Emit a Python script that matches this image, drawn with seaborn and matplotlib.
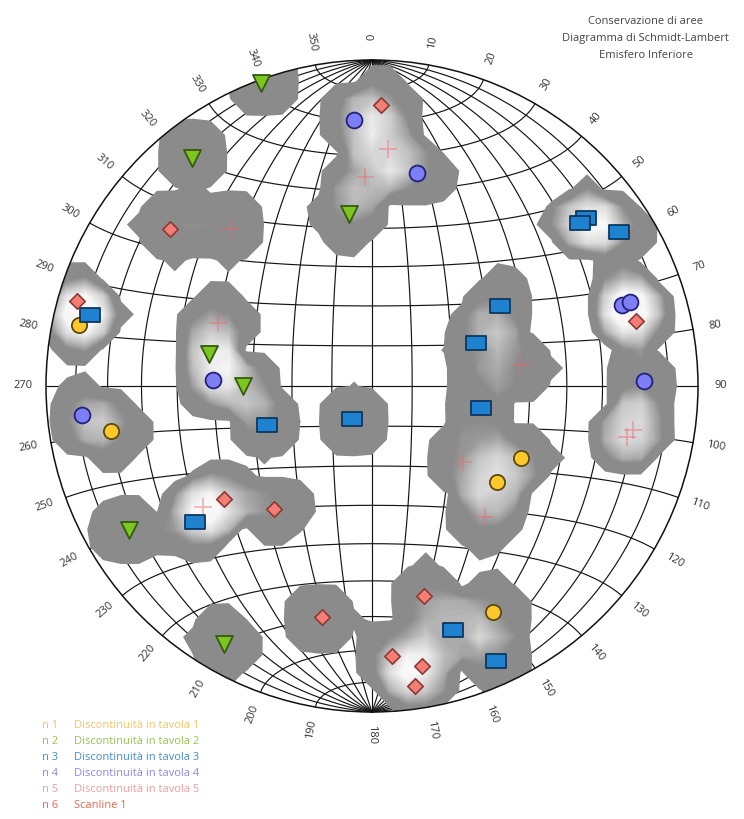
import numpy as np
import pandas as pd
import matplotlib
matplotlib.use("Agg")
import matplotlib.pyplot as plt
from matplotlib.path import Path
from matplotlib.patches import Circle
from matplotlib.colors import LinearSegmentedColormap
import seaborn as sns

sns.set_theme(style="white")
plt.rcParams['font.family'] = ['Open Sans', 'DejaVu Sans']

# Poles (trend, plunge in degrees) for each data set
tav1_trend = [281.8, 260.2, 115.8, 127.5, 151.8]
tav1_plunge = [9.0, 19.9, 47.9, 50.0, 22.4]

tav2_trend = [339.9, 321.7, 352.4, 281.1, 270.0, 239.3, 209.8]
tav2_plunge = [1.1, 11.9, 45.8, 47.8, 57.5, 14.4, 9.7]

tav3_trend = [58.0, 67.5, 101.4, 51.9, 51.9, 58.1, 284.1, 249.6, 211.2, 232.5, 161.6, 155.7]
tav3_plunge = [51.8, 61.7, 62.1, 17.7, 20.0, 11.7, 11.8, 61.9, 80.4, 32.1, 22.2, 8.3]

tav4_trend = [356.1, 11.9, 72.0, 72.0, 88.9, 272.2, 264.3]
tav4_plunge = [19.3, 33.6, 20.5, 17.9, 17.7, 49.6, 11.6]

tav5_trend = [1.8, 307.9, 286.1, 76.2, 232.6, 218.5, 192.2, 166.1, 175.8, 169.9, 171.8]
tav5_plunge = [14.9, 22.6, 6.5, 17.7, 42.4, 50.1, 28.3, 34.0, 18.1, 13.8, 7.8]

scan1_trend = [3.9, 358.1, 318.1, 292.2, 81.9, 129.9, 139.2, 101.3, 99.6, 234.4]
scan1_plunge = [28.0, 36.1, 35.5, 47.7, 52.2, 60.2, 45.9, 21.3, 19.9, 36.4]

set_names = ["Discontinuità in tavola 1", "Discontinuità in tavola 2",
             "Discontinuità in tavola 3", "Discontinuità in tavola 4",
             "Discontinuità in tavola 5", "Scanline 1"]
title_lines = ["Conservazione di aree", "Diagramma di Schmidt-Lambert", "Emisfero Inferiore"]
azimuth_labels = list(range(0, 360, 10))


def project(trend, plunge):
    """Lambert equal-area (Schmidt) projection, lower hemisphere, unit radius."""
    t = np.radians(np.asarray(trend, float))
    p = np.radians(np.asarray(plunge, float))
    r = np.sqrt(2.0) * np.sin((np.pi / 2 - p) / 2)
    return r * np.sin(t), r * np.cos(t)


def project_vec(e, n, d):
    s = 1.0 / np.sqrt(1.0 + d)
    return e * s, n * s


sets = [
    (tav1_trend, tav1_plunge),
    (tav2_trend, tav2_plunge),
    (tav3_trend, tav3_plunge),
    (tav4_trend, tav4_plunge),
    (tav5_trend, tav5_plunge),
    (scan1_trend, scan1_plunge),
]
rows = []
for k, (tr, pl) in enumerate(sets):
    x, y = project(tr, pl)
    for xi, yi, ti, pi in zip(x, y, tr, pl):
        rows.append(dict(set=set_names[k], x=xi, y=yi, trend=ti, plunge=pi))
df = pd.DataFrame(rows)

W, H = 744, 819
cx, cy, R = 372, 386, 326
fig = plt.figure(figsize=(W / 100, H / 100), dpi=100)
ax = fig.add_axes([0, 0, 1, 1])
ax.set_xlim(-cx / R, (W - cx) / R)
ax.set_ylim(-(H - cy) / R, cy / R)
ax.set_axis_off()

# --- Schmidt net grid -------------------------------------------------------
lam = np.linspace(0, np.pi, 361)
for dip in range(10, 180, 10):
    dr = np.radians(dip)
    e = np.sin(lam) * np.cos(dr)
    n = np.cos(lam)
    d = np.sin(lam) * np.sin(dr)
    gx, gy = project_vec(e, n, np.clip(d, 0, None))
    ax.plot(gx, gy, color="#151515", lw=0.85, zorder=1)
for alpha in range(10, 180, 10):
    ar = np.radians(alpha)
    e = np.sin(ar) * np.cos(lam)
    n = np.full_like(lam, np.cos(ar))
    d = np.sin(ar) * np.sin(lam)
    gx, gy = project_vec(e, n, np.clip(d, 0, None))
    ax.plot(gx, gy, color="#151515", lw=0.85, zorder=1)

# --- pole density on a coarse square grid ---------------------------------------
step = 0.055
g = np.arange(-1.155, 1.155 + step / 2, step)
GX, GY = np.meshgrid(g, g)
px = df["x"].to_numpy()
py = df["y"].to_numpy()
sq = (GX[..., None] - px) ** 2 + (GY[..., None] - py) ** 2
dens = np.clip(1.0 - sq / 0.105 ** 2, 0, None).sum(-1)     # envelope
shade = np.clip(1.0 - sq / 0.14 ** 2, 0, None).sum(-1)     # inner concentration

clip = Circle((0, 0), 1.0, transform=ax.transData, facecolor="none", edgecolor="none")
ax.add_patch(clip)
cs0 = ax.contourf(GX, GY, dens, levels=[0.05, 100], colors=["#8b8b8b"], zorder=2,
                  antialiased=True)
cs0.set_clip_path(clip)
grey_ramp = LinearSegmentedColormap.from_list(
    "ramp", [(0.0, "#8e8e8e"), (0.45, "#c4c4c4"), (1.0, "#f7f7f7")])
inner_levels = list(np.linspace(1.0, 2.3, 30)) + [100]
n_bands = len(inner_levels) - 1
band_colors = [grey_ramp(i / (n_bands - 1)) for i in range(n_bands)]
shade_in = np.where(dens > 0.05, shade, 0.0)
cs1 = ax.contourf(GX, GY, shade_in, levels=inner_levels, colors=band_colors, zorder=2.1,
                  antialiased=False)
cs1.set_clip_path(clip)

# primitive circle
ax.add_patch(Circle((0, 0), 1.0, facecolor="none", edgecolor="#111111", lw=1.1, zorder=3))

# --- poles ------------------------------------------------------------------
rect = Path([(-1, -0.72), (1, -0.72), (1, 0.72), (-1, 0.72), (-1, -0.72)],
            [Path.MOVETO, Path.LINETO, Path.LINETO, Path.LINETO, Path.CLOSEPOLY])
styles = {
    set_names[0]: dict(marker="o", s=120, color="#fcc82a", edgecolor="#5a4810", linewidth=1.3),
    set_names[1]: dict(marker="v", s=150, color="#7cc61f", edgecolor="#355a0e", linewidth=1.3),
    set_names[2]: dict(marker=rect, s=200, color="#1f82d0", edgecolor="#0c375e", linewidth=1.3),
    set_names[3]: dict(marker="o", s=130, color="#7e7ef5", edgecolor="#22227a", linewidth=1.3),
    set_names[4]: dict(marker="D", s=62, color="#f47e74", edgecolor="#8a3a34", linewidth=1.2),
}
sub = df[df["set"] == set_names[5]]
sns.scatterplot(data=sub, x="x", y="y", marker="+", s=150, color="#ee6a6a", alpha=0.55,
                linewidth=1.1, ax=ax, legend=False, zorder=4)
for name in set_names[:5]:
    sub = df[df["set"] == name]
    sns.scatterplot(data=sub, x="x", y="y", ax=ax, legend=False, zorder=5, **styles[name])

# --- azimuth labels -----------------------------------------------------------
for a in azimuth_labels:
    ar = np.radians(a)
    rot = 90 - a if a <= 180 else 270 - a
    ax.text(1.07 * np.sin(ar), 1.07 * np.cos(ar), str(a), rotation=rot,
            rotation_mode="anchor", ha="center", va="center", fontsize=8, color="#333333")

# --- title --------------------------------------------------------------------
for i, line in enumerate(title_lines):
    fig.text(0.868, 1 - (21 + 17 * i) / H, line, ha="center", va="center",
             fontsize=8, color="#444444")

# --- legend -----------------------------------------------------------------
legend_colors = ["#f6c460", "#94c450", "#3f8fcc", "#8f86e6", "#f29c9c", "#e8664e"]
for i, name in enumerate(set_names):
    yy = 1 - (726 + 15.8 * i) / H
    fig.text(42 / W, yy, f"n {i + 1}", ha="left", va="center", fontsize=8, color=legend_colors[i])
    fig.text(74 / W, yy, name, ha="left", va="center", fontsize=8, color=legend_colors[i])

fig.savefig("out.png", dpi=100)
